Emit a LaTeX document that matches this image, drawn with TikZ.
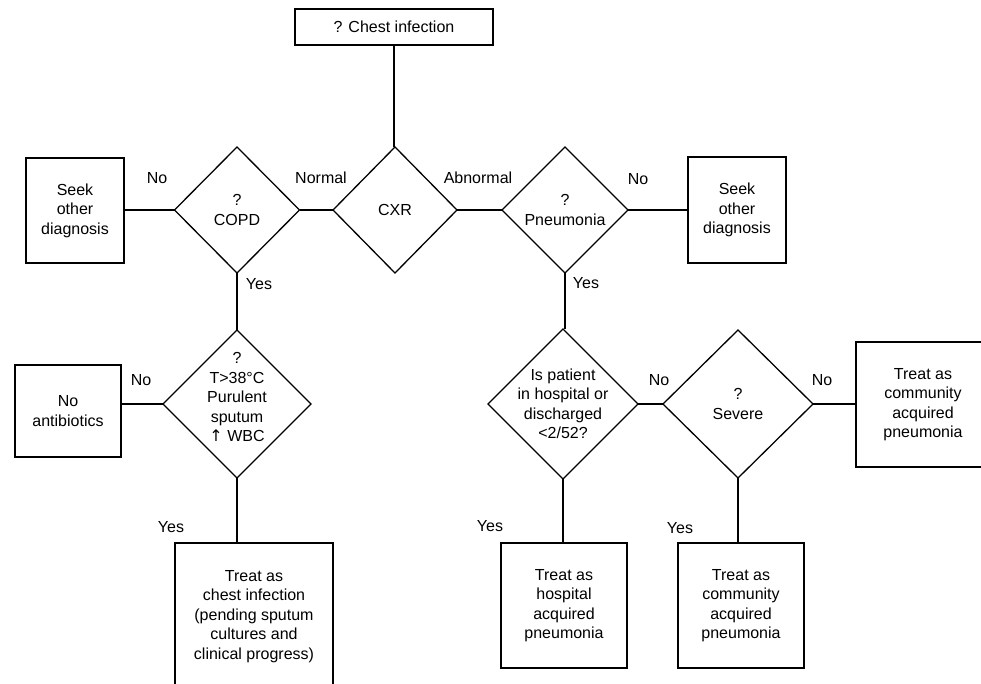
\documentclass[tikz,border=0pt]{standalone}
\usepackage{fontspec}
\setmainfont{Liberation Sans}
\newfontfamily\symfont{DejaVu Sans}
\usetikzlibrary{shapes.geometric}

\begin{document}
\begin{tikzpicture}[x=1pt,y=-1pt,line width=1.3pt,
  txt/.style={font=\fontsize{16}{19.5}\selectfont, align=center},
  box/.style={txt, draw, rectangle, inner sep=0pt, outer sep=0pt},
  decision/.style={draw, diamond, inner sep=0pt, outer sep=0pt},
  lbl/.style={txt, inner sep=0pt}]

\useasboundingbox (0,0) rectangle (981,684);

% boxes
\node[box, minimum width=198, minimum height=36] (start) at (394,27) {? Chest infection};
\node[box, minimum width=98, minimum height=105] (seekL) at (75,210.5) {Seek\\other\\diagnosis};
\node[box, minimum width=98, minimum height=106] (seekR) at (737,210) {Seek\\other\\diagnosis};
\node[box, minimum width=106, minimum height=92] (noab) at (68,411) {No\\antibiotics};
\node[box, minimum width=158, minimum height=147] (chest) at (254,616.5)
  {Treat as\\chest infection\\(pending sputum\\cultures and\\clinical progress)};
\node[box, minimum width=126, minimum height=125] (hap) at (564,605.5)
  {Treat as\\hospital\\acquired\\pneumonia};
\node[box, minimum width=126, minimum height=125] (capA) at (741,605.5)
  {Treat as\\community\\acquired\\pneumonia};
\node[box, minimum width=134, minimum height=125] (capB) at (923,404.5)
  {Treat as\\community\\acquired\\pneumonia};

% decisions
\node[decision, minimum width=125, minimum height=126,
  label={[txt]center:?\\COPD}] (copd) at (237,210) {};
\node[decision, minimum width=124, minimum height=126,
  label={[txt]center:CXR}] (cxr) at (395,210) {};
\node[decision, minimum width=126, minimum height=126,
  label={[txt]center:?\\Pneumonia}] (pneu) at (565,210) {};
\node[decision, minimum width=148, minimum height=148] (temp) at (237,404) {};
\node[txt, inner sep=0pt] (temptxt) at (237,397)
  {?\\T>38°C\\Purulent\\sputum\\{\symfont↑} WBC};
\node[decision, minimum width=150, minimum height=150,
  label={[txt]center:Is patient\\in hospital or\\discharged\\<2/52?}] (hosp) at (563,404) {};
\node[decision, minimum width=150, minimum height=148,
  label={[txt]center:?\\Severe}] (sev) at (738,404) {};

% connectors
\draw (start.south) -- (start.south |- cxr.north);
\draw (cxr.west) -- (copd.east);
\draw (copd.west) -- (seekL.east |- copd.west);
\draw (cxr.east) -- (pneu.west);
\draw (pneu.east) -- (seekR.west |- pneu.east);
\draw (copd.south) -- (temp.north);
\draw (pneu.south) -- (pneu.south |- hosp.north);
\draw (temp.west) -- (noab.east |- temp.west);
\draw (temp.south) -- (temp.south |- chest.north);
\draw (hosp.east) -- (sev.west);
\draw (sev.east) -- (capB.west |- sev.east);
\draw (hosp.south) -- (hosp.south |- hap.north);
\draw (sev.south) -- (sev.south |- capA.north);

% branch labels
\node[lbl] (lNoL) at (157,178) {No};
\node[lbl] (lNormal) at (321,178) {Normal};
\node[lbl] (lAbn) at (478,178) {Abnormal};
\node[lbl] (lNoR) at (638,179) {No};
\node[lbl] (lYesC) at (259,284) {Yes};
\node[lbl] (lYesP) at (586,283) {Yes};
\node[lbl] (lNoT) at (141,380) {No};
\node[lbl] (lNoH) at (659,380) {No};
\node[lbl] (lNoS) at (822,380) {No};
\node[lbl] (lYesT) at (171,527) {Yes};
\node[lbl] (lYesH) at (490,526) {Yes};
\node[lbl] (lYesS) at (680,528) {Yes};
\end{tikzpicture}
\end{document}
